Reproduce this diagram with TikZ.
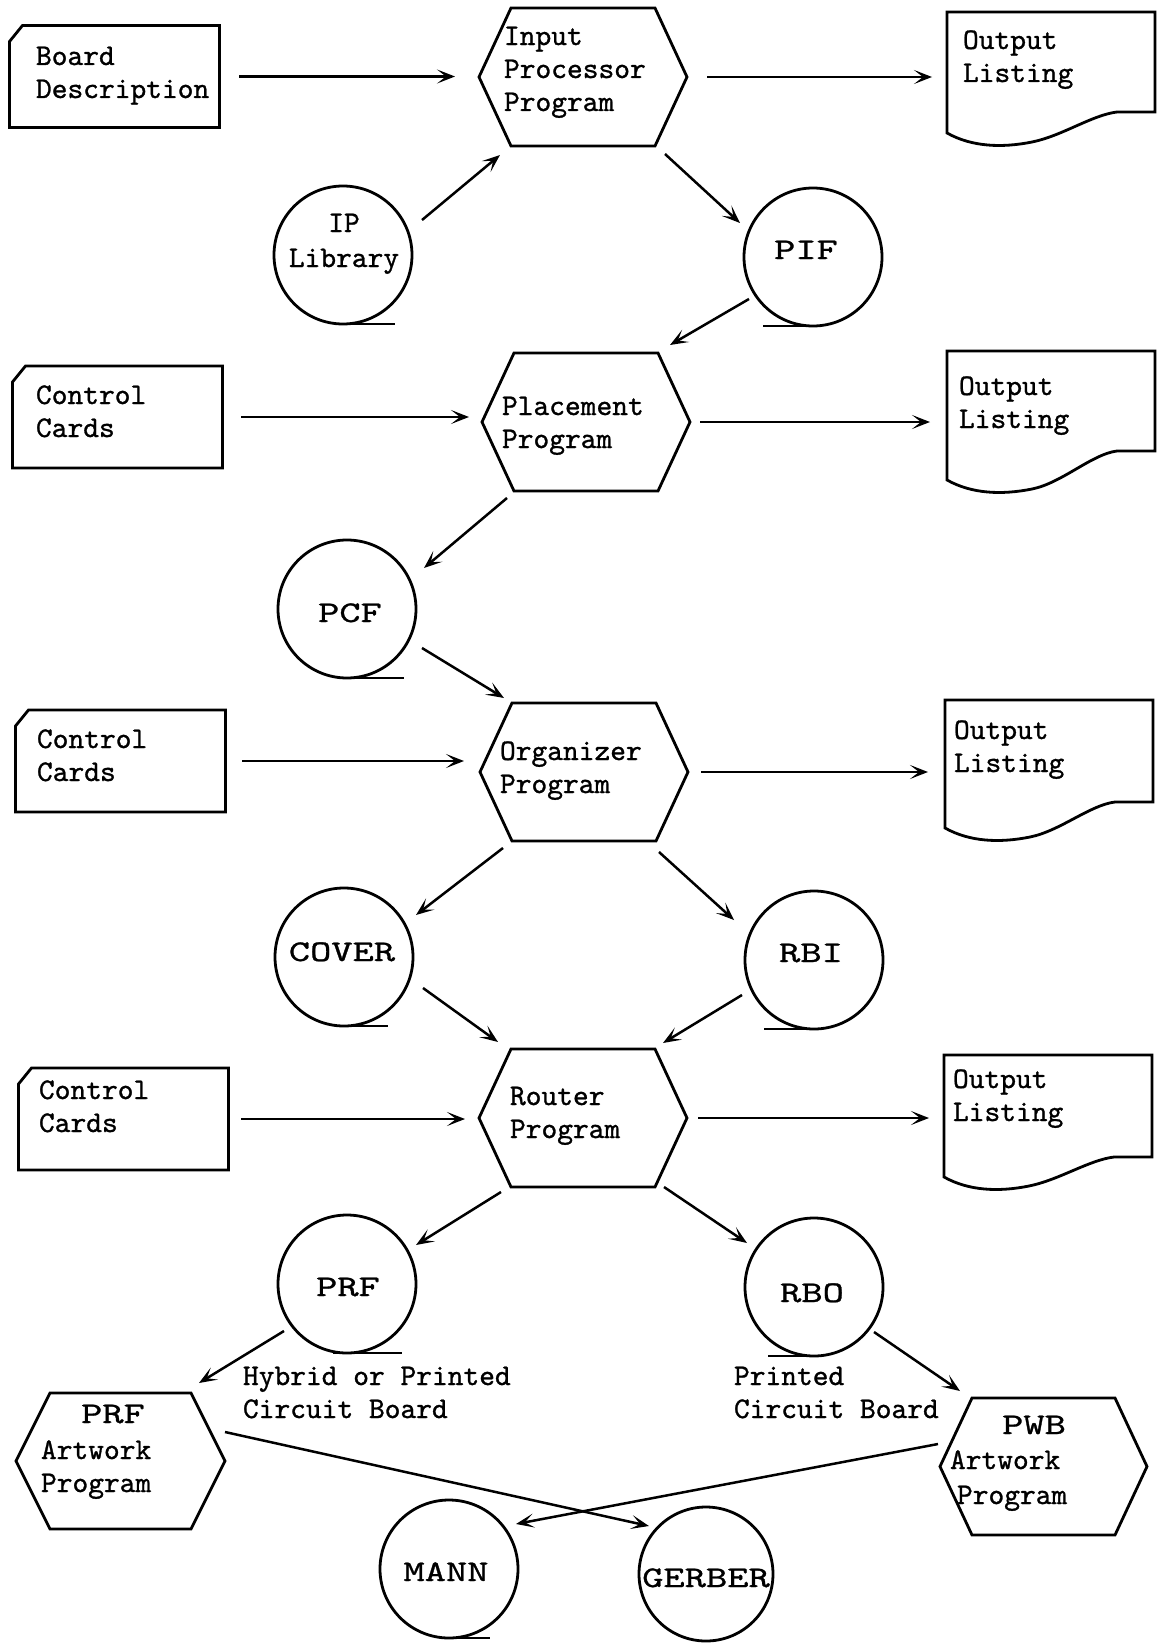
\documentclass[tikz,border=0pt]{standalone}
\usepackage{fontspec}
\newfontfamily\twfont{lmmono10-regular.otf}[FakeBold=1.0]
\newfontfamily\twcaps{lmmono10-regular.otf}[FakeStretch=1.35,FakeBold=1.0]
\usetikzlibrary{arrows.meta,calc}

% punched card outline with the top-left corner clipped
\newcommand\cardshape[1]{%
  \draw[outline] ([yshift=-16pt]#1.north west) -- ([xshift=13pt]#1.north west)
    -- (#1.north east) -- (#1.south east) -- (#1.south west) -- cycle;}
% program box: flat top and bottom, pointed sides
\newcommand\hexshape[2]{%
  \draw[outline] (#1.west) -- ([xshift=#2]#1.north west) -- ([xshift=-#2]#1.north east)
    -- (#1.east) -- ([xshift=-#2]#1.south east) -- ([xshift=#2]#1.south west) -- cycle;}
% printed listing with a wavy lower edge; #2 = rise of the wave
\newcommand\docshape[2]{%
  \draw[outline] (#1.south west)
    .. controls ($(#1.south west)+(25,14)$) and ($(#1.south west)+(55,15)$) .. ($(#1.south west)+(85,9)$)
    .. controls ($(#1.south west)+(115,3)$) and ($(#1.south west)+(145,-#2+3)$) .. ($(#1.south west)+(170,-#2)$)
    -- ($(#1.south east)+(0,-#2)$) -- (#1.north east) -- (#1.north west) -- cycle;}
% tape reel tail along the bottom of a reel
\newcommand\tapetail[3]{%
  \draw[outline] ([xshift=#2]#1.south) -- ([xshift=#3]#1.south);}

\begin{document}
\begin{tikzpicture}[x=1pt,y=-1pt,
  outline/.style={line width=2.8pt, line join=miter},
  flow/.style={line width=2.5pt, -{Stealth[length=18pt,width=14pt,inset=9pt]}},
  frame/.style={shape=rectangle, draw=none, inner sep=0pt, outer sep=0pt},
  cardbox/.style={frame, minimum width=210pt, minimum height=102pt},
  progbox/.style={frame, minimum width=208pt, minimum height=138pt},
  listbox/.style={frame, minimum width=208pt},
  reel/.style={circle, draw, line width=2.8pt, minimum size=138pt, inner sep=0pt, outer sep=0pt},
  txt/.style={inner sep=0pt, outer sep=0pt, font=\twfont\fontsize{30}{33}\selectfont, align=left},
  captxt/.style={inner sep=0pt, outer sep=0pt, font=\twcaps\fontsize{30}{33}\selectfont}
]
\useasboundingbox[fill=white] (0,0) rectangle (1156,1643);

% multi-line texts are placed by the baseline of their last line

% ---------- input processor stage ----------
\node[cardbox] (card1) at (114.5,76.5) {};
\cardshape{card1}
\node[txt, anchor=base west] (card1-t) at (36,98) {Board\\Description};

\node[progbox] (hex1) at (583,77) {};
\hexshape{hex1}{32pt}
\node[txt, anchor=base west] (hex1-t) at (504,111) {Input\\Processor\\Program};

\node[listbox, minimum height=121pt] (doc1) at (1051,72.5) {};
\docshape{doc1}{21}
\node[txt, anchor=base west] (doc1-t) at (963,82) {Output\\Listing};

\node[reel] (ipl) at (343,255) {};
\tapetail{ipl}{0pt}{52pt}
\node[txt, anchor=base] (ipl-t1) at (344,232) {IP};
\node[txt, anchor=base] (ipl-t2) at (344,267) {Library};

\node[reel] (pif) at (813,257) {};
\tapetail{pif}{-50pt}{0pt}
\node[captxt, anchor=base] (pif-t) at (806,259) {PIF};

% ---------- placement stage ----------
\node[cardbox] (card2) at (117.5,417) {};
\cardshape{card2}
\node[txt, anchor=base west] (card2-t) at (36,437) {Control\\Cards};

\node[progbox] (hex2) at (586,422) {};
\hexshape{hex2}{32pt}
\node[txt, anchor=base west] (hex2-t) at (502,448) {Placement\\Program};

\node[listbox, minimum height=129pt] (doc2) at (1051,415.5) {};
\docshape{doc2}{29}
\node[txt, anchor=base west] (doc2-t) at (959,428) {Output\\Listing};

\node[reel] (pcf) at (347,609) {};
\tapetail{pcf}{0pt}{57pt}
\node[captxt, anchor=base] (pcf-t) at (350,622) {PCF};

% ---------- organizer stage ----------
\node[cardbox] (card3) at (120.5,761) {};
\cardshape{card3}
\node[txt, anchor=base west] (card3-t) at (37,781) {Control\\Cards};

\node[progbox] (hex3) at (584,772) {};
\hexshape{hex3}{32pt}
\node[txt, anchor=base west] (hex3-t) at (500,793) {Organizer\\Program};

\node[listbox, minimum height=128pt] (doc3) at (1049,764) {};
\docshape{doc3}{26}
\node[txt, anchor=base west] (doc3-t) at (954,772) {Output\\Listing};

\node[reel] (cover) at (344,957) {};
\tapetail{cover}{0pt}{44pt}
\node[captxt, anchor=base] (cover-t) at (342,961) {COVER};

\node[reel] (rbi) at (814,960) {};
\tapetail{rbi}{-50pt}{0pt}
\node[captxt, anchor=base] (rbi-t) at (811,962) {RBI};

% ---------- router stage ----------
\node[cardbox] (card4) at (123.5,1119) {};
\cardshape{card4}
\node[txt, anchor=base west] (card4-t) at (39,1132) {Control\\Cards};

\node[progbox] (hex4) at (583,1118) {};
\hexshape{hex4}{32pt}
\node[txt, anchor=base west] (hex4-t) at (510,1138) {Router\\Program};

\node[listbox, minimum height=122pt] (doc4) at (1048,1116) {};
\docshape{doc4}{20}
\node[txt, anchor=base west] (doc4-t) at (953,1121) {Output\\Listing};

\node[reel] (prf) at (347,1284) {};
\tapetail{prf}{-14pt}{55pt}
\node[captxt, anchor=base] (prf-t) at (348,1296) {PRF};

\node[reel] (rbo) at (814,1287) {};
\tapetail{rbo}{-46pt}{0pt}
\node[captxt, anchor=base] (rbo-t) at (812,1302) {RBO};

\node[txt, anchor=base west] (hyb-t) at (243,1418) {Hybrid or Printed\\Circuit Board};
\node[txt, anchor=base west] (pcb-t) at (734,1418) {Printed\\Circuit Board};

% ---------- artwork stage ----------
\node[frame, minimum width=209pt, minimum height=136pt] (hex5) at (120.5,1461) {};
\hexshape{hex5}{34pt}
\node[captxt, anchor=base] (hex5-t1) at (113,1423) {PRF};
\node[txt, anchor=base west] (hex5-t2) at (41,1492) {Artwork\\Program};

\node[frame, minimum width=207pt, minimum height=137pt] (hex6) at (1043.5,1466.5) {};
\hexshape{hex6}{32pt}
\node[captxt, anchor=base] (hex6-t1) at (1034,1434) {PWB};
\node[txt, anchor=base west] (hex6-t2) at (950,1469) {Artwork};
\node[txt, anchor=base west] (hex6-t3) at (957,1504) {Program};

\node[reel] (mann) at (449,1569) {};
\tapetail{mann}{-7pt}{41pt}
\node[captxt, anchor=base] (mann-t) at (446,1581) {MANN};

\node[reel, minimum size=134pt] (gerber) at (706,1574) {};
\node[captxt, anchor=base] (gerber-t) at (706,1587) {GERBER};

% ---------- horizontal flows ----------
\draw[flow, shorten <=19.5pt, shorten >=24pt] (card1.east) -- (card1.east -| hex1.west);
\draw[flow, shorten <=20pt, shorten >=15pt] (hex1.east) -- (hex1.east -| doc1.west);
\draw[flow, shorten <=18.5pt, shorten >=13pt] (card2.east) -- (card2.east -| hex2.west);
\draw[flow, shorten <=10pt, shorten >=17pt] (hex2.east) -- (hex2.east -| doc2.west);
\draw[flow, shorten <=16.5pt, shorten >=16pt] (card3.east) -- (card3.east -| hex3.west);
\draw[flow, shorten <=13pt, shorten >=17pt] (hex3.east) -- (hex3.east -| doc3.west);
\draw[flow, shorten <=12.5pt, shorten >=14pt] (card4.east) -- (card4.east -| hex4.west);
\draw[flow, shorten <=11pt, shorten >=15pt] (hex4.east) -- (hex4.east -| doc4.west);

% ---------- diagonal flows ----------
\draw[flow] ([shift={(79,-35)}]ipl.center) -- ([shift={(-83,78)}]hex1.center);
\draw[flow] ([shift={(82,77)}]hex1.center) -- ([shift={(-73,-34)}]pif.center);
\draw[flow] ([shift={(-64,42)}]pif.center) -- ([shift={(84,-77)}]hex2.center);
\draw[flow] ([shift={(-79,76)}]hex2.center) -- ([shift={(77,-41)}]pcf.center);
\draw[flow] ([shift={(75,39)}]pcf.center) -- ([shift={(-80,-74)}]hex3.center);
\draw[flow] ([shift={(-81,76)}]hex3.center) -- ([shift={(72,-42)}]cover.center);
\draw[flow] ([shift={(75,80)}]hex3.center) -- ([shift={(-80,-40)}]rbi.center);
\draw[flow] ([shift={(79,31)}]cover.center) -- ([shift={(-85,-76)}]hex4.center);
\draw[flow] ([shift={(-72,35)}]rbi.center) -- ([shift={(80,-75)}]hex4.center);
\draw[flow] ([shift={(-82,74)}]hex4.center) -- ([shift={(69,-39)}]prf.center);
\draw[flow] ([shift={(81,69)}]hex4.center) -- ([shift={(-67,-44)}]rbo.center);
\draw[flow] ([shift={(-63,47)}]prf.center) -- ([shift={(78.5,-78)}]hex5.center);
\draw[flow] ([shift={(60,45)}]rbo.center) -- ([shift={(-83.5,-75.5)}]hex6.center);
\draw[flow] ([shift={(104.5,-29)}]hex5.center) -- ([shift={(-57,-48)}]gerber.center);
\draw[flow] ([shift={(-105.5,-22.5)}]hex6.center) -- ([shift={(67,-45)}]mann.center);
\end{tikzpicture}
\end{document}
